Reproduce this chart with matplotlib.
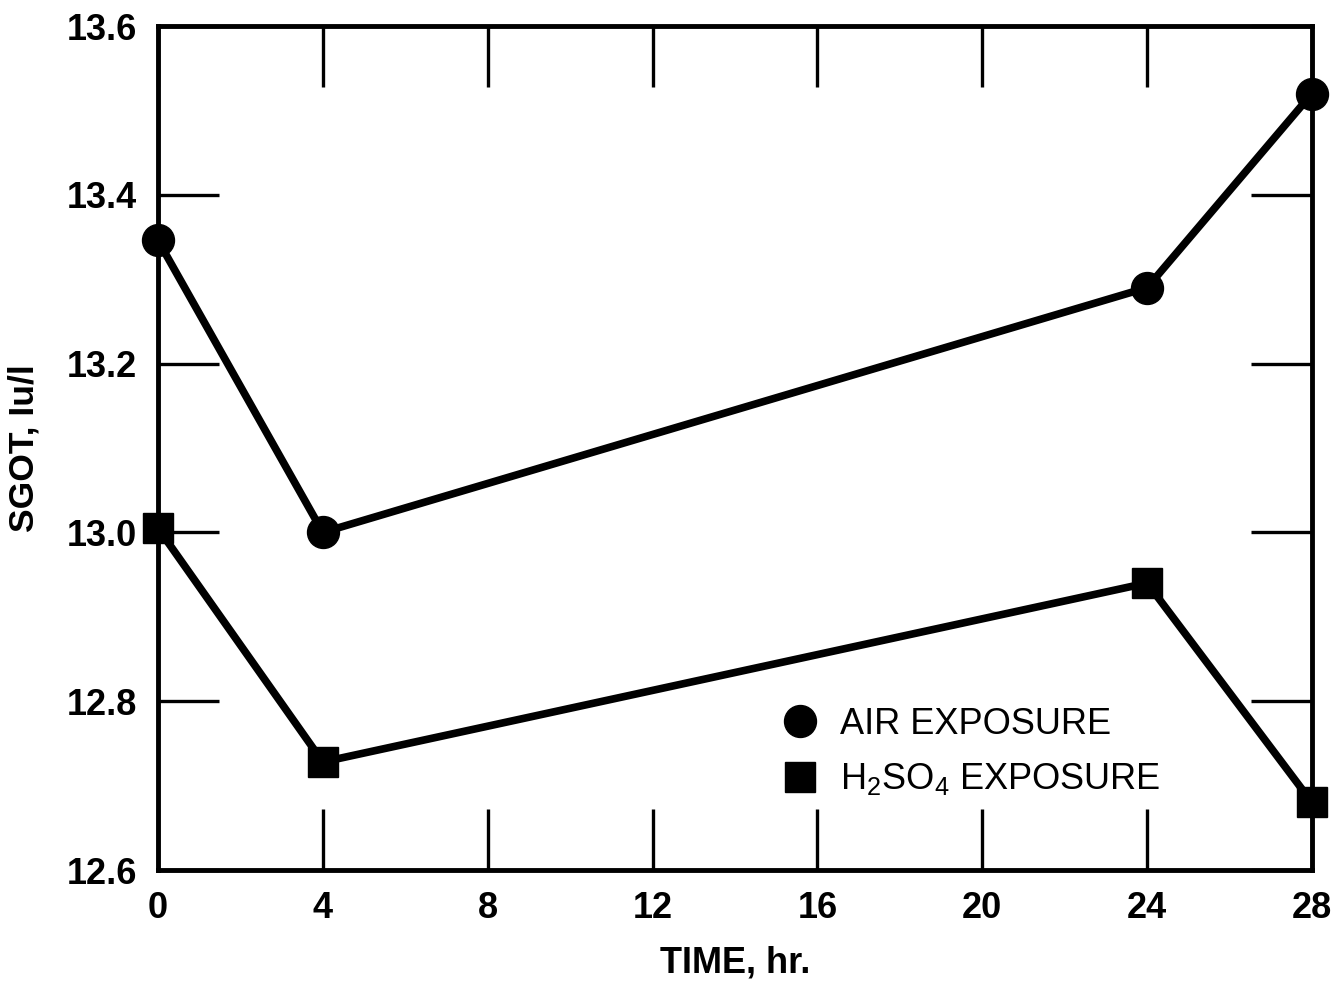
import matplotlib
matplotlib.use("Agg")
import matplotlib.pyplot as plt

plt.rcParams['font.family'] = ['Liberation Sans', 'DejaVu Sans']
plt.rcParams['mathtext.default'] = 'regular'

time_hr = [0, 4, 24, 28]
air_sgot = [13.346, 13.0, 13.29, 13.52]
h2so4_sgot = [13.005, 12.728, 12.94, 12.68]
x_ticks = [0, 4, 8, 12, 16, 20, 24, 28]
y_ticks = [12.6, 12.8, 13.0, 13.2, 13.4, 13.6]
y_tick_labels = ["12.6", "12.8", "13.0", "13.2", "13.4", "13.6"]
labels = ["AIR EXPOSURE", "H$_2$SO$_4$ EXPOSURE"]

fig = plt.figure(figsize=(13.32, 9.82), dpi=100)
ax = fig.add_axes([158/1332, 1 - 870/982, (1312-158)/1332, (870-26)/982])

ax.plot(time_hr, air_sgot, color='black', lw=5.5, marker='o', ms=23,
        clip_on=False, zorder=3, label=labels[0])
ax.plot(time_hr, h2so4_sgot, color='black', lw=5.5, marker='s', ms=21,
        clip_on=False, zorder=3, label=labels[1])

ax.set_xlim(0, 28)
ax.set_ylim(12.6, 13.6)
ax.set_xticks(x_ticks)
ax.set_xticklabels([str(t) for t in x_ticks])
ax.set_yticks(y_ticks)
ax.set_yticklabels(y_tick_labels)

for s in ax.spines.values():
    s.set_linewidth(3.5)

ax.tick_params(axis='both', direction='in', length=44, width=2.4,
               top=True, right=True, labelsize=26, pad=15)
for lab in ax.get_xticklabels() + ax.get_yticklabels():
    lab.set_fontweight('bold')

ax.set_xlabel("TIME, hr.", fontsize=26, fontweight='bold', labelpad=14)
ax.set_ylabel("SGOT, Iu/l", fontsize=25.5, fontweight='bold')
ax.yaxis.set_label_coords(-0.102, 0.5)

leg = ax.legend(handles=[plt.Line2D([], [], color='black', marker='o', ms=23, lw=0),
                         plt.Line2D([], [], color='black', marker='s', ms=21, lw=0)],
                labels=labels, loc='upper left', bbox_to_anchor=(0.525, 0.215),
                frameon=False, fontsize=26, handlelength=1.0, handletextpad=0.6,
                labelspacing=0.55, borderpad=0)

fig.savefig("out.png", dpi=100)
